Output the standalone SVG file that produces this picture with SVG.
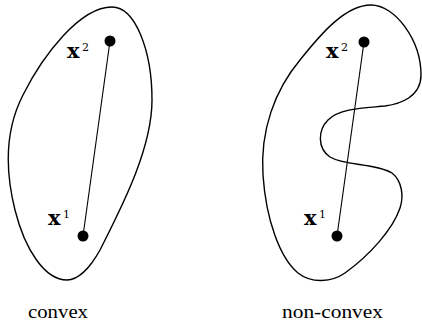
<svg xmlns="http://www.w3.org/2000/svg" width="422" height="326" viewBox="0 0 422 326">
<style>
.set{fill:none;stroke:#000;stroke-width:1.4}
.seg{stroke:#000;stroke-width:1.1}
.pt{fill:#000}
.lbl{font-family:"DejaVu Serif","Liberation Serif",serif;font-weight:bold;font-size:21px;fill:#000}
.sup{font-family:"DejaVu Serif","Liberation Serif",serif;font-size:11px;fill:#000}
.cap{font-family:"Liberation Serif",serif;font-size:19px;fill:#000}
</style>
<rect width="422" height="326" fill="#fff"/>
<g id="convex">
<path class="set" d="M 112 7 C 135 7 152 50 152 100 C 152 150 120 210 100 250 C 90 268 78 280 67 280 C 45 280 25 250 15 210 C 5 170 5 130 23 95 C 43 55 80 7 112 7 Z"/>
<text class="cap" x="28" y="318" textLength="60" lengthAdjust="spacingAndGlyphs">convex</text>
</g>
<g id="nonconvex">
<path class="set" d="M 371 5 C 395 5 421 40 421 75 C 421 97 400 104 385 106 C 365 108 340 108 328 120 C 318 130 317 148 330 157 C 345 166 375 163 392 173 C 402 181 404 196 400 208 C 393 229 370 255 345 273 C 332 282 312 284 298 273 C 280 258 266 220 263 175 C 260 130 275 90 300 60 C 320 35 345 5 371 5 Z"/>
<text class="cap" x="282" y="318" textLength="101" lengthAdjust="spacingAndGlyphs">non-convex</text>
</g>
<g id="connectors">
<line class="seg" x1="110" y1="41" x2="83" y2="236"/>
<line class="seg" x1="364" y1="42" x2="337" y2="236"/>
</g>
<g id="x2-left">
<circle class="pt" cx="110" cy="41" r="5.5"/>
<text class="lbl" x="67" y="58">x</text><text class="sup" x="82" y="51">2</text>
</g>
<g id="x1-left">
<circle class="pt" cx="83" cy="236" r="5.5"/>
<text class="lbl" x="48" y="225">x</text><text class="sup" x="63" y="218">1</text>
</g>
<g id="x2-right">
<circle class="pt" cx="364" cy="42" r="5.5"/>
<text class="lbl" x="326" y="58">x</text><text class="sup" x="341" y="51">2</text>
</g>
<g id="x1-right">
<circle class="pt" cx="337" cy="236" r="5.5"/>
<text class="lbl" x="304" y="225">x</text><text class="sup" x="319" y="218">1</text>
</g>
</svg>
